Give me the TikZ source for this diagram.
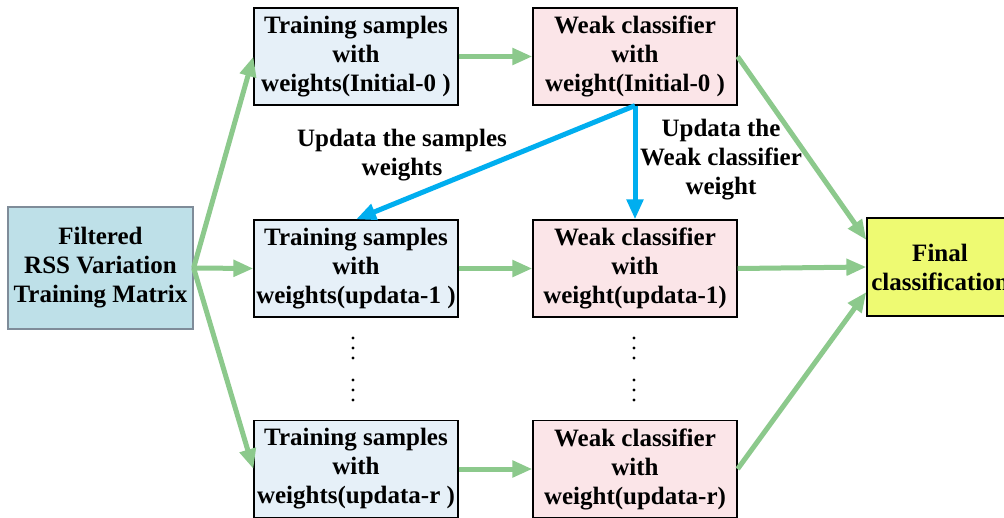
\documentclass[tikz,border=0pt]{standalone}
\usepackage{fontspec}
\setmainfont{Liberation Serif}
\usetikzlibrary{arrows.meta}
\definecolor{srcfill}{HTML}{BEE0E8}
\definecolor{srcdraw}{HTML}{7F8C99}
\definecolor{trainfill}{HTML}{E6F0F8}
\definecolor{weakfill}{HTML}{FBE5E8}
\definecolor{finalfill}{HTML}{EEFA72}
\definecolor{flowgreen}{HTML}{8CC98C}
\definecolor{updblue}{HTML}{00AEEF}
\tikzset{
  box/.style={draw=black, line width=1.2pt, inner sep=0pt, align=center,
    font=\fontsize{25}{29}\selectfont\bfseries},
  trainbox/.style={box, fill=trainfill, minimum width=204pt, minimum height=97pt},
  weakbox/.style={box, fill=weakfill, minimum width=204pt, minimum height=97pt},
  flow/.style={draw=flowgreen, line width=5pt, -{Triangle[length=20pt,width=16pt]}},
  upd/.style={draw=updblue, line width=5pt, -{Triangle[length=20pt,width=16pt]}},
  lbl/.style={align=center, inner sep=0pt, font=\fontsize{25}{29}\selectfont\bfseries},
  vdot/.style={fill=black, circle, inner sep=0pt, minimum size=3.2pt}
}
\begin{document}
\begin{tikzpicture}[x=1pt, y=-1pt]
\clip (0,0) rectangle (1004,517);
\fill[white] (0,0) rectangle (1004,517);

% input matrix
\node[box, draw=srcdraw, fill=srcfill, minimum width=185pt, minimum height=122pt]
  (src) at (100.5,268) {Filtered\\RSS Variation\\Training Matrix};

% training sample sets
\node[trainbox] (t1) at (356,56.5) {Training samples\\with\\weights(Initial-0 )};
\node[trainbox] (t2) at (356,268.5) {Training samples\\with\\weights(updata-1 )};
\node[trainbox] (t3) at (356,469) {Training samples\\with\\weights(updata-r )};

% weak classifiers
\node[weakbox] (w1) at (635,56.5) {Weak classifier\\with\\weight(Initial-0 )};
\node[weakbox] (w2) at (635,268.5) {Weak classifier\\with\\weight(updata-1)};
\node[weakbox] (w3) at (635,469) {Weak classifier\\with\\weight(updata-r)};

% combined result
\node[box, fill=finalfill, minimum width=146pt, minimum height=98pt]
  (fin) at (940,267) {Final\\classification};

% flow arrows
\draw[flow] (src.east) -- (t1.west);
\draw[flow] (src.east) -- (t2.west);
\draw[flow] (src.east) -- (t3.west);
\draw[flow] (t1.east) -- (w1.west);
\draw[flow] (t2.east) -- (w2.west);
\draw[flow] (t3.east) -- (w3.west);
\draw[flow] (w1.east) -- ([yshift=27pt]fin.west);
\draw[flow] (w2.east) -- (fin.west);
\draw[flow] (w3.east) -- ([yshift=-25pt]fin.west);

% weight update arrows
\draw[upd] (w1.south) -- (t2.north);
\draw[upd] (w1.south) -- (w2.north);

\node[lbl] (l1) at (402,155) {Updata the samples\\weights};
\node[lbl] (l2) at (721,160) {Updata the\\Weak classifier\\weight};

% ellipses between rows
\foreach \x/\n in {353/a,634/b}{
  \foreach \y [count=\i] in {338,348,358,380,390,400}{
    \node[vdot] (d\n\i) at (\x,\y) {};
  }
}
\end{tikzpicture}
\end{document}
